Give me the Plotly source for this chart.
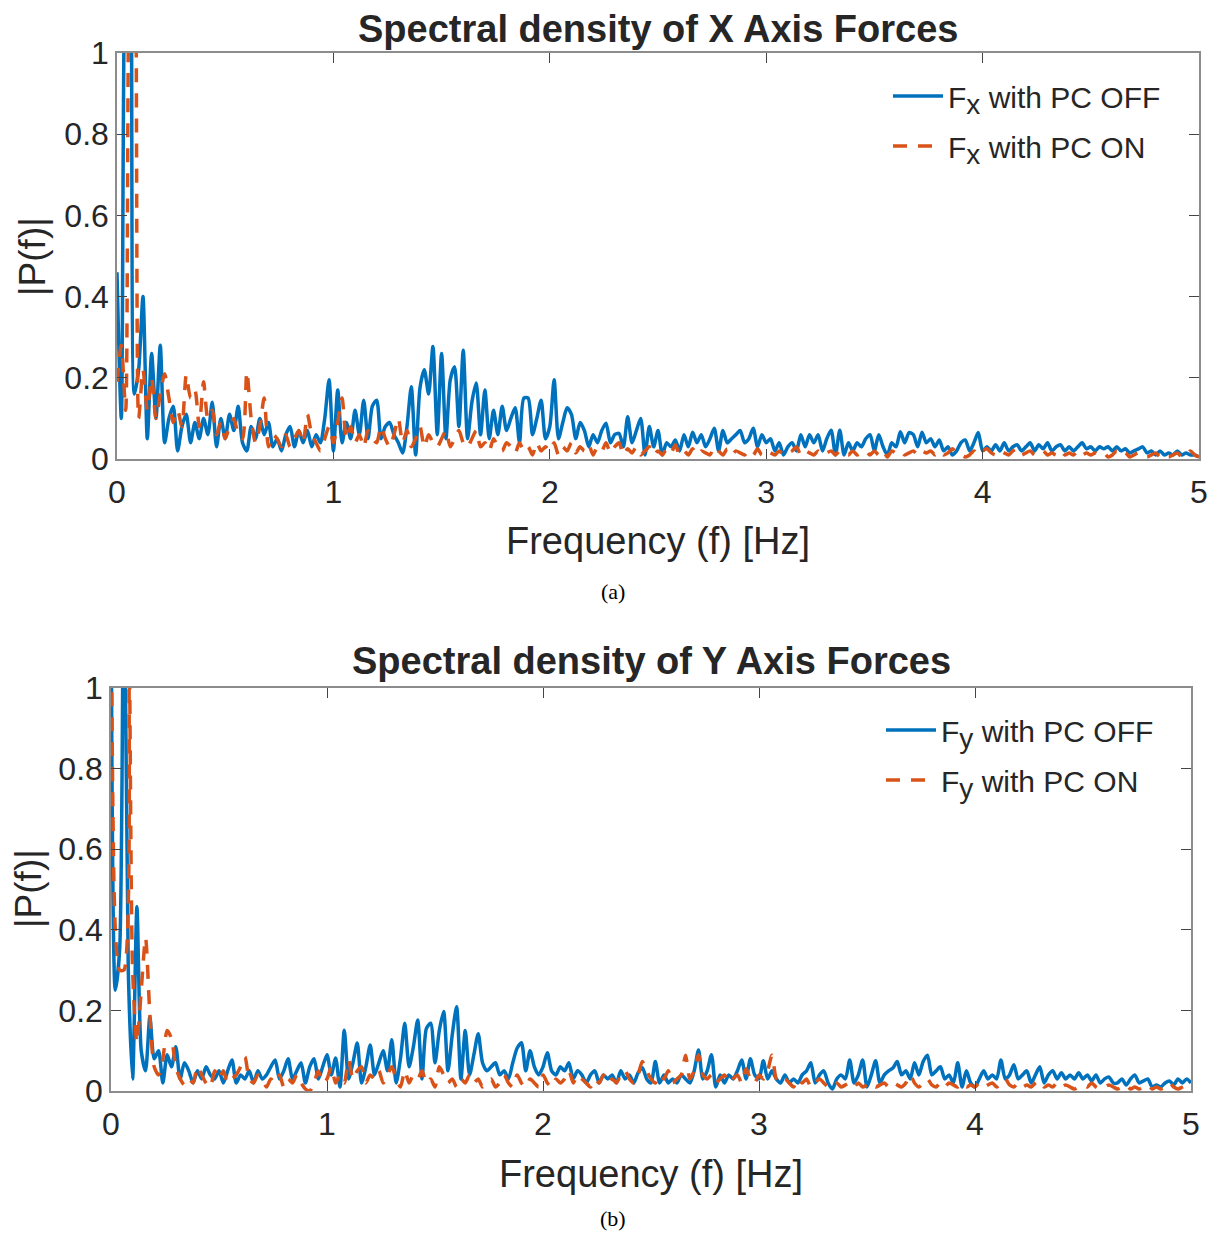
import numpy as np
import plotly.graph_objects as go

# Spectral density readings, 0.02 Hz apart, from 0 to 5 Hz
fx_off = [
    0.46, 0.10, 1.3, 1.4, 0.16, 0.22, 0.40, 0.05, 0.26, 0.10,
    0.28, 0.04, 0.10, 0.13, 0.02, 0.08, 0.11, 0.04, 0.09, 0.05,
    0.10, 0.06, 0.14, 0.03, 0.10, 0.05, 0.11, 0.07, 0.13, 0.04,
    0.02, 0.08, 0.05, 0.10, 0.06, 0.09, 0.03, 0.05, 0.02, 0.06,
    0.08, 0.03, 0.07, 0.04, 0.07, 0.03, 0.06, 0.04, 0.10, 0.195,
    0.02, 0.17, 0.04, 0.09, 0.05, 0.12, 0.06, 0.145, 0.05, 0.13,
    0.145, 0.05, 0.08, 0.09, 0.06, 0.04, 0.015, 0.08, 0.178, 0.01,
    0.175, 0.22, 0.16, 0.277, 0.06, 0.26, 0.05, 0.195, 0.227, 0.08,
    0.268, 0.05, 0.14, 0.187, 0.06, 0.17, 0.05, 0.12, 0.06, 0.13,
    0.07, 0.10, 0.126, 0.04, 0.15, 0.15, 0.06, 0.10, 0.145, 0.05,
    0.08, 0.195, 0.05, 0.09, 0.126, 0.11, 0.05, 0.09, 0.07, 0.03,
    0.06, 0.04, 0.07, 0.088, 0.04, 0.06, 0.063, 0.03, 0.104, 0.04,
    0.07, 0.10, 0.01, 0.08, 0.03, 0.07, 0.01, 0.04, 0.03, 0.047,
    0.02, 0.06, 0.03, 0.066, 0.04, 0.06, 0.03, 0.05, 0.076, 0.02,
    0.07, 0.04, 0.05, 0.06, 0.07, 0.04, 0.05, 0.076, 0.03, 0.06,
    0.04, 0.05, 0.02, 0.04, 0.01, 0.03, 0.04, 0.02, 0.06, 0.03,
    0.06, 0.04, 0.06, 0.02, 0.05, 0.071, 0.01, 0.071, 0.01, 0.04,
    0.02, 0.04, 0.03, 0.05, 0.06, 0.02, 0.06, 0.03, 0.01, 0.04,
    0.03, 0.067, 0.04, 0.065, 0.06, 0.03, 0.066, 0.04, 0.05, 0.03,
    0.047, 0.02, 0.03, 0.01, 0.02, 0.04, 0.047, 0.02, 0.04, 0.065,
    0.02, 0.03, 0.02, 0.035, 0.02, 0.04, 0.02, 0.03, 0.035, 0.02,
    0.03, 0.04, 0.02, 0.035, 0.025, 0.04, 0.02, 0.03, 0.035, 0.02,
    0.03, 0.02, 0.03, 0.04, 0.025, 0.03, 0.02, 0.03, 0.025, 0.03,
    0.02, 0.03, 0.02, 0.025, 0.015, 0.02, 0.025, 0.03, 0.015, 0.02,
    0.01, 0.02, 0.01, 0.015, 0.01, 0.02, 0.01, 0.015, 0.01, 0.01,
    0.005,
]
fx_on = [
    0.19, 0.28, 0.12, 1.3, 1.4, 0.10, 0.22, 0.12, 0.20, 0.10,
    0.16, 0.21, 0.15, 0.09, 0.12, 0.08, 0.207, 0.15, 0.17, 0.08,
    0.19, 0.10, 0.12, 0.06, 0.09, 0.05, 0.08, 0.10, 0.06, 0.05,
    0.215, 0.10, 0.04, 0.08, 0.15, 0.03, 0.06, 0.05, 0.03, 0.06,
    0.03, 0.05, 0.07, 0.04, 0.11, 0.06, 0.04, 0.02, 0.05, 0.08,
    0.04, 0.09, 0.15, 0.05, 0.08, 0.04, 0.06, 0.03, 0.07, 0.05,
    0.04, 0.08, 0.05, 0.03, 0.06, 0.10, 0.04, 0.07, 0.03, 0.05,
    0.08, 0.03, 0.06, 0.04, 0.03, 0.05, 0.07, 0.03, 0.05, 0.07,
    0.04, 0.03, 0.05, 0.07, 0.03, 0.04, 0.02, 0.05, 0.03, 0.02,
    0.04, 0.03, 0.015, 0.04, 0.02, 0.03, 0.01, 0.04, 0.02, 0.03,
    0.02, 0.04, 0.01, 0.03, 0.02, 0.04, 0.015, 0.03, 0.02, 0.035,
    0.01, 0.03, 0.02, 0.04, 0.015, 0.03, 0.04, 0.01, 0.025, 0.015,
    0.03, 0.01, 0.02, 0.03, 0.01, 0.02, 0.01, 0.025, 0.015, 0.035,
    0.01, 0.02, 0.01, 0.025, 0.01, 0.02, 0.015, 0.01, 0.03, 0.02,
    0.01, 0.025, 0.01, 0.02, 0.015, 0.01, 0.02, 0.01, 0.025, 0.01,
    0.02, 0.015, 0.01, 0.02, 0.01, 0.015, 0.02, 0.03, 0.01, 0.02,
    0.015, 0.01, 0.02, 0.01, 0.015, 0.02, 0.01, 0.02, 0.015, 0.01,
    0.02, 0.01, 0.015, 0.02, 0.01, 0.02, 0.01, 0.02, 0.005, 0.02,
    0.015, 0.02, 0.01, 0.015, 0.02, 0.01, 0.02, 0.015, 0.02, 0.01,
    0.02, 0.01, 0.015, 0.025, 0.015, 0.01, 0.005, 0.01, 0.02, 0.01,
    0.02, 0.025, 0.015, 0.01, 0.02, 0.015, 0.01, 0.02, 0.025, 0.01,
    0.015, 0.02, 0.01, 0.015, 0.02, 0.01, 0.015, 0.01, 0.02, 0.01,
    0.015, 0.01, 0.02, 0.01, 0.015, 0.01, 0.015, 0.01, 0.015, 0.005,
    0.01, 0.02, 0.01, 0.015, 0.005, 0.01, 0.015, 0.01, 0.005, 0.01,
    0.015, 0.005, 0.01, 0.005, 0.01, 0.015, 0.005, 0.01, 0.02, 0.01,
    0.005,
]
fy_off = [
    1.3, 0.25, 0.35, 1.4, 0.30, 0.03, 0.457, 0.10, 0.05, 0.184,
    0.08, 0.10, 0.02, 0.09, 0.06, 0.11, 0.03, 0.07, 0.05, 0.02,
    0.05, 0.03, 0.06, 0.04, 0.03, 0.05, 0.02, 0.05, 0.077, 0.02,
    0.04, 0.03, 0.05, 0.02, 0.05, 0.03, 0.04, 0.06, 0.077, 0.03,
    0.05, 0.08, 0.03, 0.05, 0.07, 0.02, 0.06, 0.08, 0.03, 0.06,
    0.09, 0.04, 0.082, 0.01, 0.151, 0.03, 0.07, 0.119, 0.02, 0.06,
    0.114, 0.04, 0.07, 0.10, 0.05, 0.127, 0.02, 0.08, 0.168, 0.06,
    0.11, 0.176, 0.03, 0.155, 0.168, 0.07, 0.15, 0.197, 0.05, 0.14,
    0.209, 0.03, 0.15, 0.04, 0.09, 0.142, 0.07, 0.05, 0.06, 0.07,
    0.04, 0.05, 0.03, 0.07, 0.106, 0.12, 0.05, 0.10, 0.06, 0.04,
    0.06, 0.095, 0.05, 0.04, 0.06, 0.05, 0.07, 0.03, 0.05, 0.04,
    0.02, 0.04, 0.05, 0.02, 0.04, 0.03, 0.04, 0.02, 0.05, 0.03,
    0.04, 0.02, 0.045, 0.058, 0.03, 0.02, 0.073, 0.02, 0.04, 0.02,
    0.03, 0.02, 0.04, 0.03, 0.02, 0.05, 0.102, 0.03, 0.05, 0.09,
    0.01, 0.04, 0.02, 0.04, 0.03, 0.05, 0.077, 0.03, 0.08, 0.04,
    0.03, 0.075, 0.03, 0.05, 0.03, 0.02, 0.04, 0.02, 0.03, 0.02,
    0.04, 0.05, 0.07, 0.02, 0.04, 0.05, 0.02, 0.005, 0.03, 0.04,
    0.03, 0.077, 0.02, 0.04, 0.077, 0.01, 0.04, 0.075, 0.02, 0.04,
    0.05, 0.057, 0.073, 0.04, 0.05, 0.03, 0.07, 0.04, 0.073, 0.089,
    0.04, 0.05, 0.06, 0.03, 0.04, 0.02, 0.07, 0.01, 0.05, 0.02,
    0.01, 0.03, 0.05, 0.03, 0.04, 0.03, 0.077, 0.03, 0.04, 0.065,
    0.03, 0.04, 0.05, 0.02, 0.04, 0.06, 0.02, 0.04, 0.05, 0.03,
    0.045, 0.03, 0.04, 0.03, 0.045, 0.03, 0.04, 0.025, 0.04, 0.02,
    0.03, 0.035, 0.02, 0.02, 0.03, 0.015, 0.03, 0.04, 0.02, 0.025,
    0.03, 0.01, 0.015, 0.01, 0.02, 0.025, 0.015, 0.03, 0.02, 0.03,
    0.02,
]
fy_on = [
    1.3, 0.40, 0.30, 0.30, 1.4, 0.30, 0.12, 0.25, 0.38, 0.19,
    0.06, 0.04, 0.08, 0.15, 0.13, 0.06, 0.03, 0.015, 0.03, 0.02,
    0.06, 0.04, 0.02, 0.01, 0.05, 0.03, 0.05, 0.02, 0.03, 0.04,
    0.06, 0.085, 0.03, 0.02, 0.04, 0.03, 0.01, 0.03, 0.02, 0.04,
    0.01, 0.03, 0.02, 0.04, 0.02, 0.005, 0.00, 0.02, 0.05, 0.02,
    0.03, 0.06, 0.02, 0.04, 0.02, 0.077, 0.03, 0.05, 0.06, 0.02,
    0.04, 0.03, 0.05, 0.02, 0.04, 0.06, 0.03, 0.01, 0.05, 0.02,
    0.04, 0.03, 0.05, 0.02, 0.03, 0.01, 0.06, 0.04, 0.02, 0.03,
    0.01, 0.03, 0.02, 0.04, 0.02, 0.03, 0.01, 0.02, 0.03, 0.01,
    0.02, 0.04, 0.02, 0.01, 0.04, 0.02, 0.01, 0.03, 0.02, 0.01,
    0.04, 0.02, 0.01, 0.03, 0.02, 0.03, 0.05, 0.02, 0.04, 0.03,
    0.02, 0.01, 0.03, 0.02, 0.04, 0.02, 0.03, 0.02, 0.04, 0.05,
    0.03, 0.02, 0.04, 0.073, 0.05, 0.03, 0.02, 0.04, 0.03, 0.05,
    0.02, 0.03, 0.04, 0.089, 0.03, 0.05, 0.09, 0.04, 0.03, 0.04,
    0.02, 0.03, 0.04, 0.02, 0.03, 0.04, 0.02, 0.055, 0.03, 0.02,
    0.04, 0.03, 0.05, 0.089, 0.03, 0.02, 0.03, 0.02, 0.01, 0.03,
    0.02, 0.03, 0.01, 0.02, 0.03, 0.02, 0.01, 0.01, 0.02, 0.01,
    0.015, 0.02, 0.01, 0.02, 0.01, 0.015, 0.02, 0.01, 0.015, 0.02,
    0.01, 0.02, 0.015, 0.01, 0.02, 0.04, 0.02, 0.01, 0.02, 0.03,
    0.015, 0.01, 0.02, 0.01, 0.02, 0.015, 0.01, 0.02, 0.01, 0.015,
    0.01, 0.02, 0.01, 0.015, 0.02, 0.01, 0.02, 0.03, 0.015, 0.01,
    0.02, 0.01, 0.015, 0.01, 0.02, 0.025, 0.01, 0.015, 0.01, 0.02,
    0.01, 0.015, 0.01, 0.005, 0.01, 0.015, 0.01, 0.02, 0.01, 0.005,
    0.01, 0.015, 0.01, 0.005, 0.01, 0.015, 0.005, 0.01, 0.005, 0.01,
    0.015, 0.005, 0.01, 0.005, 0.01, 0.02, 0.01, 0.005, 0.01, 0.015,
    0.01,
]
freq_step = 0.02

x_ticks = [0, 1, 2, 3, 4, 5]
y_ticks = [0, 0.2, 0.4, 0.6, 0.8, 1]
y_tick_text = ["0", "0.2", "0.4", "0.6", "0.8", "1"]

BLUE = "#0072BD"
ORANGE = "#D95319"
TXT = "#262626"
DASH = "14px,11px"
# page body adds an 8px margin around the figure div
OFF = 8
W, H = 1215 - 2 * OFF, 1241 - 2 * OFF


def px(x):
    return (x - OFF) / W


def py(y):
    return 1 - (y - OFF) / H


def freqs(vals):
    return np.arange(len(vals)) * freq_step


def label(sub, state):
    return f"F<sub><span style='font-size:28px'>{sub}</span></sub> with PC {state}"


fig = go.Figure()
fig.add_trace(go.Scatter(x=freqs(fx_off), y=fx_off, mode="lines", name=label("x", "OFF"),
                         line=dict(color=BLUE, width=3.5, shape="spline", smoothing=0.7),
                         xaxis="x", yaxis="y", legend="legend", legendgroup="a"))
fig.add_trace(go.Scatter(x=freqs(fx_on), y=fx_on, mode="lines", name=label("x", "ON"),
                         line=dict(color=ORANGE, width=3.5, dash=DASH, shape="spline", smoothing=0.7),
                         xaxis="x", yaxis="y", legend="legend", legendgroup="b"))
fig.add_trace(go.Scatter(x=freqs(fy_off), y=fy_off, mode="lines", name=label("y", "OFF"),
                         line=dict(color=BLUE, width=3.5, shape="spline", smoothing=0.7),
                         xaxis="x2", yaxis="y2", legend="legend2", legendgroup="c"))
fig.add_trace(go.Scatter(x=freqs(fy_on), y=fy_on, mode="lines", name=label("y", "ON"),
                         line=dict(color=ORANGE, width=3.5, dash=DASH, shape="spline", smoothing=0.7),
                         xaxis="x2", yaxis="y2", legend="legend2", legendgroup="d"))

axis_common = dict(showline=True, linecolor="#8c8c8c", linewidth=1.5, mirror="ticks",
                   ticks="inside", ticklen=10, tickcolor="#444", showgrid=False, zeroline=False,
                   automargin=False, ticklabeloverflow="allow", tickfont=dict(size=32, color=TXT))
x_common = dict(range=[0, 5], tickvals=x_ticks, ticklabelstandoff=4, **axis_common)
y_common = dict(range=[0, 1], tickvals=y_ticks, ticktext=y_tick_text, **axis_common)

fig.update_layout(
    width=W, height=H,
    margin=dict(l=0, r=0, t=0, b=0, autoexpand=False),
    paper_bgcolor="white", plot_bgcolor="white",
    font=dict(family="Liberation Sans, Arial, sans-serif", color=TXT),
    xaxis=dict(domain=[px(117), px(1199)], anchor="y", **x_common),
    yaxis=dict(domain=[py(459), py(53)], anchor="x", **y_common),
    xaxis2=dict(domain=[px(111), px(1191)], anchor="y2", **x_common),
    yaxis2=dict(domain=[py(1091), py(688)], anchor="x2", **y_common),
    legend=dict(x=px(888), y=py(70), xanchor="left", yanchor="top", bgcolor="rgba(0,0,0,0)",
                font=dict(size=30, color=TXT), itemwidth=50, tracegroupgap=8),
    legend2=dict(x=px(881), y=py(704), xanchor="left", yanchor="top", bgcolor="rgba(0,0,0,0)",
                 font=dict(size=30, color=TXT), itemwidth=50, tracegroupgap=8),
    showlegend=True,
)

annots = [
    ("<b>Spectral density of X Axis Forces</b>", 658, 29, 38, 0),
    ("<b>Spectral density of Y Axis Forces</b>", 651, 661, 38, 0),
    ("Frequency (f) [Hz]", 658, 541, 38, 0),
    ("Frequency (f) [Hz]", 651, 1174, 38, 0),
    ("|P(f)|", 33, 256, 37, -90),
    ("|P(f)|", 28, 889, 37, -90),
]
for text, x, y, size, ang in annots:
    fig.add_annotation(text=text, x=px(x), y=py(y), xref="paper", yref="paper", showarrow=False,
                       xanchor="center", yanchor="middle", textangle=ang,
                       font=dict(size=size, color=TXT))

for text, y in [("(a)", 592), ("(b)", 1218)]:
    fig.add_annotation(text=text, x=px(613), y=py(y), xref="paper", yref="paper", showarrow=False,
                       xanchor="center", yanchor="middle",
                       font=dict(size=22, color="black", family="Liberation Serif, Times New Roman, serif"))

fig.write_html("out.html")
